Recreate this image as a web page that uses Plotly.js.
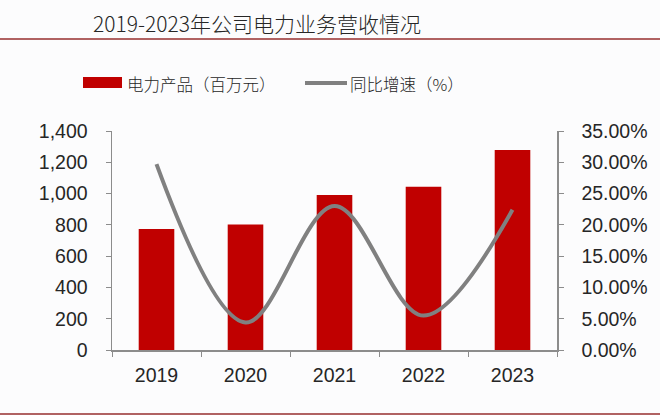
<!DOCTYPE html>
<html>
<head>
<meta charset="utf-8">
<script src="https://cdn.plot.ly/plotly-3.0.1.min.js"></script>
<style>
html,body{margin:0;padding:0;background:#fcfcfd;}
#chart{width:660px;height:415px;}
</style>
</head>
<body>
<div id="chart"></div>
<script>
const years = ["2019", "2020", "2021", "2022", "2023"];
const revenue = [774, 803, 991, 1044, 1279];
const growth = [29.7, 4.4, 23.0, 5.5, 22.4];
const titleText = "2019-2023年公司电力业务营收情况";
const barName = "电力产品（百万元）";
const lineName = "同比增速（%）";

const tickFont = {family: "Liberation Sans, Arial, sans-serif", size: 19.5, color: "#262626"};
const cjk = "Noto Sans CJK SC, sans-serif";

const traces = [
  {type: "bar", x: years, y: revenue, name: barName, marker: {color: "#c00000"},
   yaxis: "y", showlegend: false, hoverinfo: "skip"},
  {type: "scatter", mode: "lines", x: years, y: growth, name: lineName,
   line: {color: "#808080", width: 4, shape: "spline", smoothing: 1},
   yaxis: "y2", showlegend: false, hoverinfo: "skip"}
];

const layout = {
  width: 660, height: 415,
  paper_bgcolor: "#fcfcfd", plot_bgcolor: "#fcfcfd",
  margin: {l: 112, r: 103, t: 131, b: 65},
  bargap: 0.6,
  showlegend: false,
  title: {text: titleText, font: {family: cjk, size: 21, color: "#262626", weight: 300},
          x: 257/660, xanchor: "center", y: 0.94, yanchor: "middle"},
  xaxis: {type: "category", showline: true, linecolor: "#8c8c8c", linewidth: 1.5,
          ticks: "outside", tickson: "boundaries", ticklen: 5, tickcolor: "#8c8c8c",
          tickfont: tickFont, showgrid: false, zeroline: false, fixedrange: true,
          ticklabelstandoff: 7},
  yaxis: {range: [0, 1400], dtick: 200, tickformat: ",d", showline: true,
          linecolor: "#8c8c8c", linewidth: 1.5, ticks: "outside", ticklen: 5,
          tickcolor: "#8c8c8c", tickfont: tickFont, showgrid: false, zeroline: false,
          ticklabelstandoff: 14},
  yaxis2: {range: [0, 35], dtick: 5, tickformat: ".2f", ticksuffix: "%",
           overlaying: "y", side: "right", showline: true, linecolor: "#8c8c8c",
           linewidth: 1.5, ticks: "outside", ticklen: 5, tickcolor: "#8c8c8c",
           tickfont: tickFont, showgrid: false, zeroline: false, ticklabelstandoff: 14},
  shapes: [
    {type: "line", xref: "paper", yref: "paper", x0: -112/445, x1: 548/445,
     y0: 1 + (131-39)/219, y1: 1 + (131-39)/219, line: {color: "#b06262", width: 2}},
    {type: "line", xref: "paper", yref: "paper", x0: -112/445, x1: 548/445,
     y0: -(414-350)/219, y1: -(414-350)/219, line: {color: "#b06262", width: 2}},
    {type: "rect", xref: "paper", yref: "paper",
     x0: (83-112)/445, x1: (122-112)/445, y0: 1 + (131-88)/219, y1: 1 + (131-77)/219,
     fillcolor: "#c00000", line: {width: 0}},
    {type: "line", xref: "paper", yref: "paper",
     x0: (305-112)/445, x1: (347-112)/445, y0: 1 + (131-83)/219, y1: 1 + (131-83)/219,
     line: {color: "#808080", width: 4}}
  ],
  annotations: [
    {text: barName, xref: "paper", yref: "paper", x: (125-112)/445, y: 1 + (131-84)/219,
     xanchor: "left", yanchor: "middle", showarrow: false,
     font: {family: cjk, size: 16.5, color: "#262626", weight: 300}},
    {text: lineName, xref: "paper", yref: "paper", x: (348-112)/445, y: 1 + (131-84)/219,
     xanchor: "left", yanchor: "middle", showarrow: false,
     font: {family: cjk, size: 16.5, color: "#262626", weight: 300}}
  ]
};

Plotly.newPlot("chart", traces, layout, {displayModeBar: false, staticPlot: true});
</script>
</body>
</html>
